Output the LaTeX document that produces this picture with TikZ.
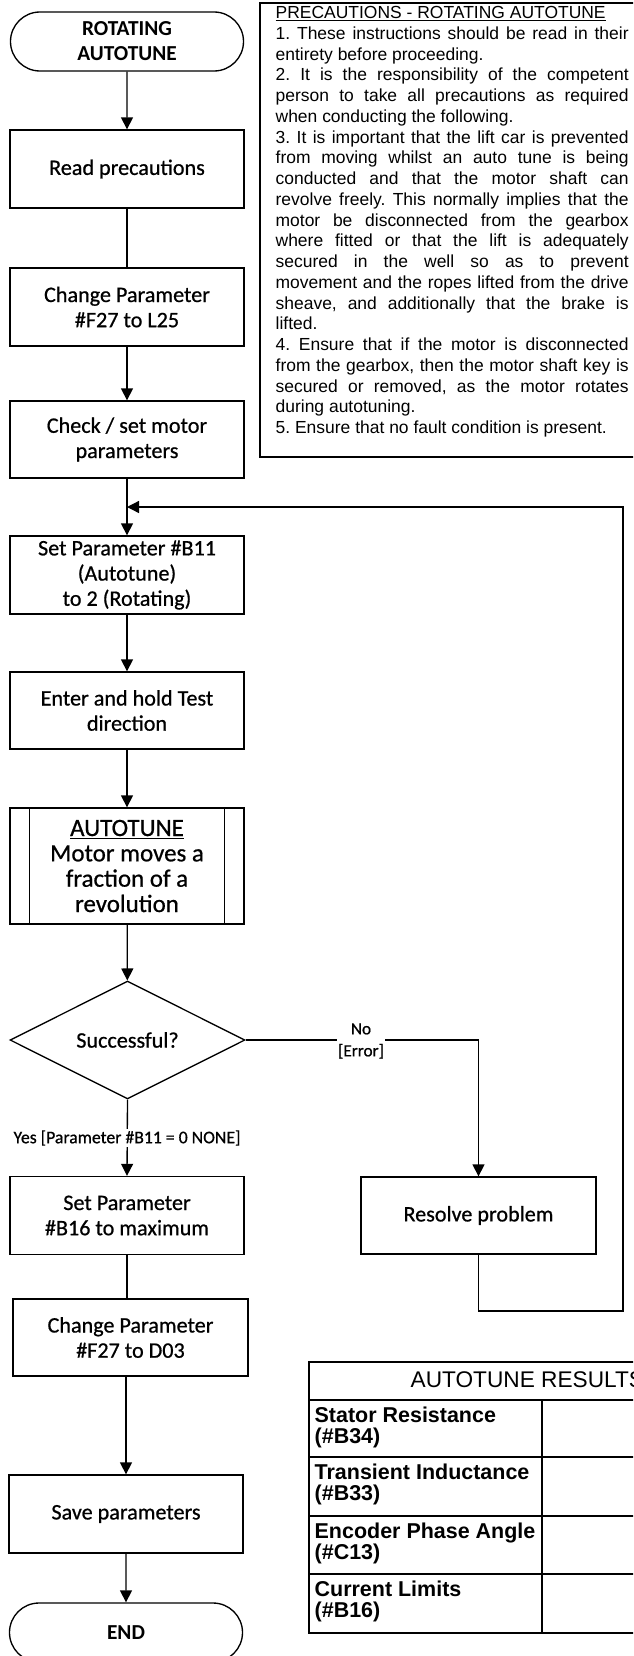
\documentclass[tikz,border=0pt]{standalone}
\usepackage{fontspec}
\setmainfont{Carlito}
\newfontfamily\boxf[FakeBold=0.7]{Carlito}
\newfontfamily\arialf{Liberation Sans}
\usetikzlibrary{shapes.geometric,shapes.misc,arrows.meta,calc}
\frenchspacing
\begin{document}
\begin{tikzpicture}[x=0.75pt,y=-0.75pt,line width=1pt,
  fbox/.style={draw,rectangle,inner sep=0pt,align=center,
    font=\boxf\fontsize{16.6}{18.9}\selectfont,minimum width=175.5pt,minimum height=58.5pt},
  term/.style={draw,rounded rectangle,inner sep=0pt,align=center,
    font=\bfseries\fontsize{16}{18.75}\selectfont,minimum width=174.75pt,minimum height=44.25pt},
  decis/.style={draw,diamond,inner sep=0pt,align=center,
    font=\boxf\fontsize{16.6}{18.9}\selectfont,minimum width=176.25pt,minimum height=86.25pt},
  arr/.style={-{Triangle[width=9pt,length=9pt]}},
  lbl/.style={fill=white,inner sep=1pt,align=center,font=\boxf\fontsize{12.9}{16.5}\selectfont},
  precl/.style={anchor=base west,inner sep=0pt,font=\arialf\fontsize{13.1}{15.5}\selectfont},
  tabl/.style={anchor=base west,inner sep=0pt,font=\arialf\bfseries\fontsize{16.1}{16}\selectfont}]
\useasboundingbox (0,0) rectangle (633,1656);
\clip (0,0) rectangle (633,1656);

% precautions box
\node[draw,line width=1.2pt,rectangle,minimum width=330pt,minimum height=340.5pt,inner sep=0pt] (precbox) at (480,230) {};
\node[precl] (pl0) at (275,18.5) {\underline{PRECAUTIONS - ROTATING AUTOTUNE}};
\foreach \i/\j/\t in {
  1/s/{1. These instructions should be read in their},
  2/l/{entirety before proceeding.},
  3/s/{2. It is the responsibility of the competent},
  4/s/{person to take all precautions as required},
  5/l/{when conducting the following.},
  6/s/{3. It is important that the lift car is prevented},
  7/s/{from moving whilst an auto tune is being},
  8/s/{conducted and that the motor shaft can},
  9/s/{revolve freely. This normally implies that the},
  10/s/{motor be disconnected from the gearbox},
  11/s/{where fitted or that the lift is adequately},
  12/s/{secured in the well so as to prevent},
  13/s/{movement and the ropes lifted from the drive},
  14/s/{sheave, and additionally that the brake is},
  15/l/{lifted.},
  16/s/{4. Ensure that if the motor is disconnected},
  17/s/{from the gearbox, then the motor shaft key is},
  18/s/{secured or removed, as the motor rotates},
  19/l/{during autotuning.},
  20/l/{5. Ensure that no fault condition is present.}}
  {\node[precl] (pl\i) at (275,{18.5+20.75*\i}) {\makebox[264.75pt][\j]{\t}};}

% flowchart nodes
\node[term] (start) at (127,41.5) {ROTATING\\AUTOTUNE};
\node[fbox] (read) at (127,169) {Read precautions};
\node[fbox] (chg1) at (127,307) {Change Parameter\\\#F27 to L25};
\node[fbox,minimum height=57.75pt] (check) at (127,439.5) {Check / set motor\\parameters};
\node[fbox] (setb) at (127,575) {Set Parameter \#B11\\(Autotune)\\to 2 (Rotating)};
\node[fbox,minimum height=57.75pt] (enter) at (127,710.5) {Enter and hold Test\\direction};
\node[fbox,minimum height=87pt,font=\boxf\fontsize{18.7}{19}\selectfont] (auto) at (127,866)
  {\underline{AUTOTUNE}\\Motor moves a\\fraction of a\\revolution};
\draw ([xshift=15pt]auto.north west) -- ([xshift=15pt]auto.south west);
\draw ([xshift=-15pt]auto.north east) -- ([xshift=-15pt]auto.south east);
\node[decis] (dec) at (127.5,1040) {Successful?};
\node[fbox] (b16) at (127,1215.5) {Set Parameter\\\#B16 to maximum};
\node[fbox,minimum width=176.25pt,minimum height=57.75pt] (res) at (478.5,1215.5) {Resolve problem};
\node[fbox,minimum width=176.25pt,minimum height=57.75pt] (d03) at (130.5,1337.5) {Change Parameter\\\#F27 to D03};
\node[fbox] (save) at (126,1514) {Save parameters};
\node[term] (end) at (126,1632.5) {END};

% connectors
\coordinate (rb) at (478.5,1311);
\coordinate (rr) at (623,1311);
\coordinate (rt) at (623,507);
\coordinate (lp) at (127,507);
\draw[arr] (start) -- (read);
\draw (read) -- (chg1);
\draw[arr] (chg1) -- (check);
\draw[arr] (check) -- (setb);
\draw[arr] (res.south) -- (rb) -- (rr) -- (rt) -- (lp);
\draw[arr] (setb) -- (enter);
\draw[arr] (enter) -- (auto);
\draw[arr] (auto) -- (dec);
\draw[arr] (dec.east) -| (res.north);
\draw[arr] (dec.south) -- (b16.north);
\draw (b16.south) -- (b16.south |- d03.north);
\draw[arr] (save.north |- d03.south) -- (save.north);
\draw[arr] (save) -- (end);
\node[lbl] (no) at (361,1041) {No\\{[Error]}};
\node[lbl,font=\boxf\fontsize{13.3}{16}\selectfont] (yes) at (127,1138) {Yes [Parameter \#B11 = 0 NONE]};

% results table
\draw (309,1362) rectangle (760,1633);
\draw (309,1400) -- (760,1400);
\draw (309,1457) -- (760,1457);
\draw (309,1516) -- (760,1516);
\draw (309,1574) -- (760,1574);
\draw (542,1400) -- (542,1633);
\node[anchor=base west,inner sep=0pt,font=\arialf\fontsize{17}{20}\selectfont] (tt) at (410,1387) {AUTOTUNE RESULTS};
\foreach \k/\y/\a/\b in {1/1400/{Stator Resistance}/{(\#B34)},
                         2/1457/{Transient Inductance}/{(\#B33)},
                         3/1516/{Encoder Phase Angle}/{(\#C13)},
                         4/1574/{Current Limits}/{(\#B16)}}
  {\node[tabl] (ra\k) at (314,\y+22) {\a};
   \node[tabl] (rb\k) at (314,\y+43) {\b};}
\end{tikzpicture}
\end{document}
